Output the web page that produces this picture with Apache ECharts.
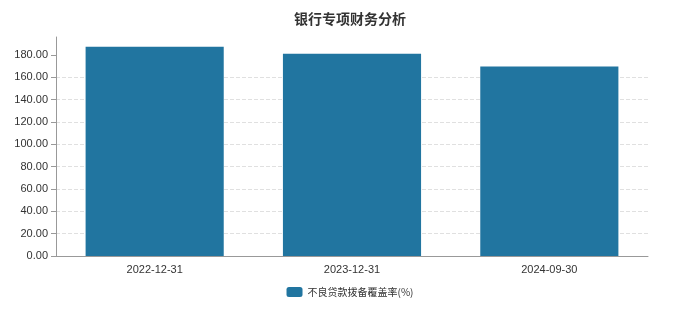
<!DOCTYPE html>
<html><head><meta charset="utf-8">
<script src="https://cdn.jsdelivr.net/npm/echarts@6/dist/echarts.min.js"></script>
<style>html,body{margin:0;padding:0;background:#fff}#c{width:700px;height:318px}</style>
</head><body><div id="c"></div>
<script>
const categories = ['2022-12-31', '2023-12-31', '2024-09-30'];
const coverage = [187.2, 181.0, 169.6];
const tickValues = [0, 20, 40, 60, 80, 100, 120, 140, 160, 180];
const seriesName = '不良贷款拨备覆盖率(%)';
const title = '银行专项财务分析';

const chart = echarts.init(document.getElementById('c'));
chart.setOption({
  animation: false,
  title: { text: title, left: 'center', top: 7, textStyle: { fontSize: 14, fontWeight: 'bold', color: '#333', fontFamily: 'Noto Sans CJK SC' } },
  grid: { left: 56, right: 52, top: 37, bottom: 62 },
  legend: { bottom: 16, left: 'center', itemWidth: 16, itemHeight: 10, textStyle: { fontSize: 10, color: '#333', fontFamily: 'Noto Sans CJK SC' }, data: [seriesName] },
  xAxis: {
    type: 'category', data: categories,
    axisLine: { lineStyle: { color: '#999' } },
    axisTick: { alignWithLabel: true, lineStyle: { color: '#999' } },
    axisLabel: { color: '#333', fontSize: 11, margin: 8 }
  },
  yAxis: {
    type: 'value', min: 0, max: 196, interval: 20,
    axisLine: { show: true, lineStyle: { color: '#999' } },
    axisTick: { show: true, customValues: tickValues, lineStyle: { color: '#999' } },
    axisLabel: { color: '#333', fontSize: 11, customValues: tickValues, formatter: v => v.toFixed(2) },
    splitLine: { showMaxLine: false, lineStyle: { type: 'dashed', color: '#e0e0e0' } }
  },
  series: [{
    name: seriesName, type: 'bar', data: coverage, barWidth: '70%',
    itemStyle: { color: '#2175a0' }
  }]
});
</script></body></html>
